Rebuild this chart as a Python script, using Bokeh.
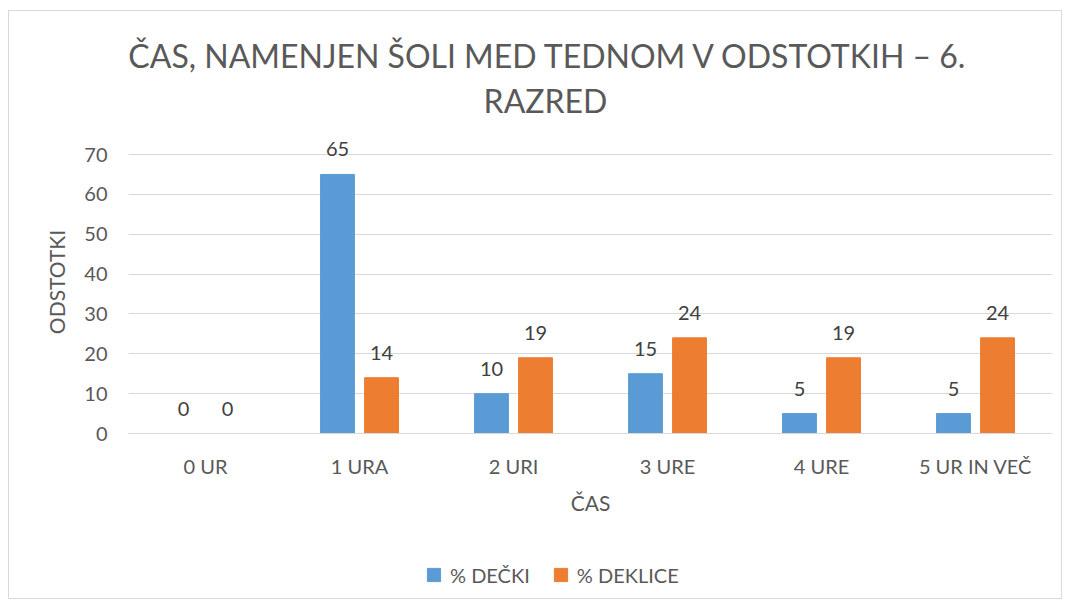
from bokeh.plotting import figure
from bokeh.layouts import column
from bokeh.models import (FactorRange, ColumnDataSource, Legend, LegendItem,
                          FixedTicker, Label, Range1d)
from bokeh.transform import dodge
from bokeh.embed import file_html
from bokeh.resources import INLINE
from bokeh.core.properties import value

categories = ["0 UR", "1 URA", "2 URI", "3 URE", "4 URE", "5 UR IN VEČ"]
decki = [0, 65, 10, 15, 5, 5]
deklice = [0, 14, 19, 24, 19, 24]
y_ticks = [0, 10, 20, 30, 40, 50, 60, 70]
series_names = ["% DEČKI", "% DEKLICE"]

title_line1 = "ČAS, NAMENJEN ŠOLI MED TEDNOM V ODSTOTKIH – 6."
title_line2 = "RAZRED"

BLUE = "#5B9BD5"
ORANGE = "#ED7D31"
FONT = "Lato"
GREY = "#595959"

src = ColumnDataSource(dict(cat=categories, decki=decki, deklice=deklice,
                            dl=[str(v) for v in decki], gl=[str(v) for v in deklice]))

# ---- title strip ----
p0 = figure(width=1052, height=119, output_backend="svg", toolbar_location=None,
            x_axis_location=None, y_axis_location=None,
            x_range=Range1d(0, 1), y_range=Range1d(0, 1),
            min_border_left=0, min_border_right=0, min_border_top=0,
            min_border_bottom=0)
p0.outline_line_color = None
p0.grid.visible = False
for txt, xc, yc in ((title_line1, 420, 75), (title_line2, 417, 30)):
    p0.add_layout(Label(x=xc, y=yc, x_units="screen", y_units="screen", text=txt,
                        text_align="center", text_baseline="middle",
                        text_font=FONT, text_font_size="32px", text_color=GREY))

# ---- main chart: 0..70 spans 279 px, headroom for the data labels ----
FRAME_H = 303
y_top = 70 * FRAME_H / 279

p = figure(frame_width=924, frame_height=FRAME_H,
           x_range=FactorRange(factors=categories), y_range=Range1d(0, y_top),
           output_backend="svg", toolbar_location=None,
           min_border_left=119, min_border_right=9, min_border_top=0,
           min_border_bottom=97)
p.outline_line_color = None

r1 = p.vbar(x=dodge("cat", -0.143, range=p.x_range), top="decki", width=0.22,
            source=src, color=BLUE)
r2 = p.vbar(x=dodge("cat", 0.143, range=p.x_range), top="deklice", width=0.22,
            source=src, color=ORANGE)

p.text(x=dodge("cat", -0.143, range=p.x_range), y="decki", text="dl", source=src,
       text_align="center", text_baseline="middle", y_offset=-25,
       text_font=value(FONT), text_font_size="20px", text_color="#404040")
p.text(x=dodge("cat", 0.143, range=p.x_range), y="deklice", text="gl", source=src,
       text_align="center", text_baseline="middle", y_offset=-25,
       text_font=value(FONT), text_font_size="20px", text_color="#404040")

p.xgrid.grid_line_color = None
p.ygrid.grid_line_color = "#d9d9d9"
p.ygrid.grid_line_width = 1
p.yaxis.ticker = FixedTicker(ticks=y_ticks)

for ax in (p.xaxis, p.yaxis):
    ax.major_tick_line_color = None
    ax.minor_tick_line_color = None
    ax.major_tick_out = 0
    ax.major_tick_in = 0
    ax.minor_tick_out = 0
    ax.minor_tick_in = 0
    ax.major_label_text_font = FONT
    ax.major_label_text_font_size = "20px"
    ax.major_label_text_color = GREY
    ax.axis_label_text_font = FONT
    ax.axis_label_text_font_size = "21px"
    ax.axis_label_text_color = GREY
    ax.axis_label_text_font_style = "normal"

p.yaxis.axis_line_color = None
p.yaxis.major_label_standoff = 21
p.yaxis.axis_label = "ODSTOTKI"
p.yaxis.axis_label_standoff = 12
p.xaxis.axis_line_color = "#d9d9d9"
p.xaxis.major_label_standoff = 20
p.xaxis.axis_label = "ČAS"
p.xaxis.axis_label_standoff = 9

# ---- legend strip ----
p2 = figure(width=1052, height=68, output_backend="svg", toolbar_location=None,
            x_axis_location=None, y_axis_location=None,
            x_range=FactorRange(factors=categories), y_range=Range1d(1000, 1001),
            min_border_left=0, min_border_right=0, min_border_top=0,
            min_border_bottom=0)
p2.outline_line_color = None
p2.grid.visible = False
g1 = p2.scatter(x="cat", y="decki", source=src, marker="square", size=13,
                fill_color=BLUE, line_color=BLUE)
g2 = p2.scatter(x="cat", y="deklice", source=src, marker="square", size=13,
                fill_color=ORANGE, line_color=ORANGE)

legend = Legend(items=[LegendItem(label=series_names[0], renderers=[g1]),
                       LegendItem(label=series_names[1], renderers=[g2])],
                orientation="horizontal", location=(289, 7),
                label_text_font=FONT, label_text_font_size="20px",
                label_text_color=GREY, glyph_width=33, glyph_height=33,
                label_height=33, label_standoff=0, spacing=14,
                border_line_color=None, background_fill_alpha=0,
                margin=0, padding=0)
p2.add_layout(legend, "center")

layout = column(p0, p, p2, spacing=0)
layout.styles = {"border": "1px solid #d9d9d9", "margin-left": "8px", "margin-top": "10px"}

open("out.html", "w").write(file_html(layout, INLINE))
